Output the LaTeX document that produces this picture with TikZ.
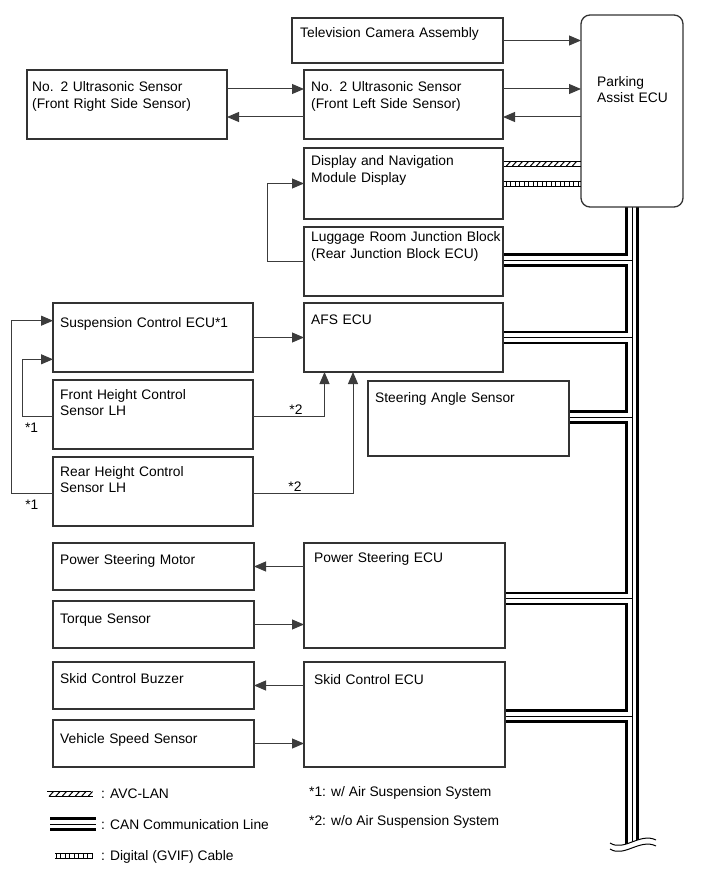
\documentclass[tikz,border=0pt]{standalone}
\usepackage{fontspec}
\setmainfont{Liberation Sans}
\usetikzlibrary{arrows.meta,backgrounds}

\definecolor{boxline}{HTML}{333333}
\definecolor{conline}{HTML}{3C3C3C}

\tikzset{
  box/.style={draw=boxline, line width=1.3pt, anchor=north west, inner sep=0pt, outer sep=0pt},
  boxsize/.style 2 args={minimum width=#1pt, minimum height=#2pt},
  lbl/.style={anchor=north west, align=left, text width=230pt, text height=0pt,
    inner ysep=0pt, font=\fontsize{13.8}{16.6}\selectfont},
  btext/.style n args={3}{label={[lbl, inner xsep=#1pt, yshift=-#2pt]north west:{#3}}},
  arr/.style={draw=conline, line width=1pt, -{Triangle[length=12pt,width=10pt]}},
  note/.style={inner sep=0pt, font=\fontsize{13.8}{16.6}\selectfont},
  canout/.style={line width=13.4pt},
  canin/.style={line width=8.8pt, white},
  canmid/.style={line width=0.9pt},
}

\begin{document}
\begin{tikzpicture}[x=1pt, y=-1pt]
\useasboundingbox (0,0) rectangle (713,882);

% top group
\node[box, boxsize={211}{45}, btext={8}{19}{Television Camera Assembly}] (cam) at (292,18) {};
\node[box, boxsize={200}{69}, btext={5}{21.5}{No. 2 Ultrasonic Sensor\\(Front Right Side Sensor)}] (usr) at (27,70) {};
\node[box, boxsize={199}{69}, btext={7}{21.5}{No. 2 Ultrasonic Sensor\\(Front Left Side Sensor)}] (usl) at (304,70) {};
\node[box, boxsize={102}{192}, rounded corners=9pt, btext={16}{71}{Parking\\Assist ECU}] (ecu) at (581,15) {};
\node[box, boxsize={199}{71}, btext={7}{17.5}{Display and Navigation\\Module Display}] (disp) at (304,148) {};
\node[box, boxsize={199}{69}, btext={7}{14.5}{Luggage Room Junction Block\\(Rear Junction Block ECU)}] (lug) at (304,227) {};

% suspension group
\node[box, boxsize={200}{69}, btext={7}{24.5}{Suspension Control ECU*1}] (susp) at (53,303) {};
\node[box, boxsize={199}{69}, btext={7}{21}{AFS ECU}] (afs) at (304,303) {};
\node[box, boxsize={200}{69}, btext={7}{19}{Front Height Control\\Sensor LH}] (fh) at (53,380) {};
\node[box, boxsize={200}{69}, btext={7}{19}{Rear Height Control\\Sensor LH}] (rh) at (53,457) {};
\node[box, boxsize={201}{75}, btext={7}{21}{Steering Angle Sensor}] (sas) at (368,381) {};

% steering and skid group
\node[box, boxsize={201}{47}, btext={7}{21.7}{Power Steering Motor}] (psm) at (53,543) {};
\node[box, boxsize={201}{47}, btext={7}{22.3}{Torque Sensor}] (tq) at (53,601) {};
\node[box, boxsize={201}{47}, btext={7}{21}{Skid Control Buzzer}] (bz) at (53,662) {};
\node[box, boxsize={201}{47}, btext={7}{23.3}{Vehicle Speed Sensor}] (vs) at (53,720) {};
\node[box, boxsize={201}{105}, btext={10}{19}{Power Steering ECU}] (psecu) at (304,543) {};
\node[box, boxsize={201}{105}, btext={10}{22}{Skid Control ECU}] (skecu) at (304,662) {};

% signal lines
\draw[arr] (cam.east) -- (cam.east -| ecu.west);
\draw[arr] ([yshift=15.5pt]usr.east) -- ([yshift=15.5pt]usl.west);
\draw[arr] ([yshift=-12.5pt]usl.west) -- ([yshift=-12.5pt]usr.east);
\draw[arr] ([yshift=15.5pt]usl.east) -- ([yshift=15.5pt]usl.east -| ecu.west);
\draw[arr] ([yshift=-12.5pt]usl.east -| ecu.west) -- ([yshift=-12.5pt]usl.east);
\draw[arr] (lug.west) -- ++(-37,0) |- (disp.west);

\draw[arr] (susp.east) -- (afs.west);
\draw[arr] ([yshift=-2pt]fh.east) -| node[note, above=1.5pt, pos=0.3] (ftwo) {*2} ([xshift=20.5pt]afs.south west);
\draw[arr] ([yshift=-2pt]rh.east) -| node[note, above=1.5pt, pos=0.21] (rtwo) {*2} ([xshift=49pt]afs.south west);
\draw[arr] ([yshift=-1.5pt]fh.west) -- node[note, below=6.5pt, pos=0.7] (fone) {*1} ++(-30.6,0) |- ([yshift=-21.8pt]susp.west);
\draw[arr] ([yshift=-2pt]rh.west) -- node[note, below=6.5pt, pos=0.51] (rone) {*1} ++(-41.6,0) |- ([yshift=16.8pt]susp.west);

\draw[arr] (psm.east -| psecu.west) -- (psm.east);
\draw[arr] (tq.east) -- (tq.east -| psecu.west);
\draw[arr] (bz.east -| skecu.west) -- (bz.east);
\draw[arr] (vs.east) -- (vs.east -| skecu.west);

% AVC-LAN and GVIF cable
\draw[line width=0.8pt] (504,161.5) -- (581,161.5) (504,166.5) -- (581,166.5);
\foreach \x in {506,512,...,576}
  \draw[line width=1pt] (\x,166.5) -- ++(4.5,-5);
\draw[line width=0.8pt] (504,181) -- (581,181) (504,186) -- (581,186);
\foreach \x in {506,510.5,...,580}
  \draw[line width=0.9pt] (\x,181) -- (\x,186);

% CAN bus
\coordinate (busend) at (ecu.south |- 0,846);
\begin{scope}[on background layer]
\foreach \st in {canout,canin,canmid}{
  \draw[\st] (ecu.south) -- (busend);
  \draw[\st] ([yshift=1.5pt]lug.east) -- ([yshift=1.5pt]lug.east -| busend);
  \draw[\st] (afs.east) -- (afs.east -| busend);
  \draw[\st] ([yshift=1.5pt]sas.east) -- ([yshift=1.5pt]sas.east -| busend);
  \draw[\st] ([yshift=-3pt]psecu.east) -- ([yshift=-3pt]psecu.east -| busend);
  \draw[\st] ([yshift=-1.5pt]skecu.east) -- ([yshift=-1.5pt]skecu.east -| busend);
}
\end{scope}
\fill[white] (610,843) .. controls (624,852) and (640,832) .. (656,840) -- (656,846) .. controls (640,838) and (624,858) .. (610,849) -- cycle;
\draw[line width=1pt] (610,843) .. controls (624,852) and (640,832) .. (656,840);
\draw[line width=1pt] (610,849) .. controls (624,858) and (640,838) .. (656,846);

% legend
\draw[line width=0.8pt] (47,791.5) -- (91,791.5) (49,796.5) -- (93,796.5);
\foreach \x in {49,55.5,...,88}
  \draw[line width=1pt] (\x,796.5) -- ++(4.5,-5);
\foreach \st in {canout,canin,canmid}
  \draw[\st] (50,824) -- (96,824);
\draw[line width=0.8pt] (55,853) -- (93,853) (55,858) -- (93,858);
\foreach \x in {56,60.5,...,93}
  \draw[line width=0.9pt] (\x,853) -- (\x,858);
\node[note, anchor=base west] (kavc) at (101,798.5) {: AVC-LAN};
\node[note, anchor=base west] (kcan) at (101,829.5) {: CAN Communication Line};
\node[note, anchor=base west] (kgvif) at (101,860.5) {: Digital (GVIF) Cable};

\node[note, anchor=base west] (fnone) at (309,796) {*1: w/ Air Suspension System};
\node[note, anchor=base west] (fntwo) at (309,825) {*2: w/o Air Suspension System};
\end{tikzpicture}
\end{document}
